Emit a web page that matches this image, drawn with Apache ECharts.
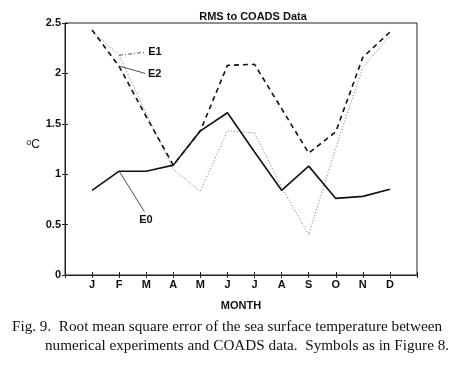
<!DOCTYPE html>
<html>
<head>
<meta charset="utf-8">
<script src="https://cdn.jsdelivr.net/npm/echarts@6/dist/echarts.min.js"></script>
<style>
  html, body { margin: 0; padding: 0; background: #fff; }
  #chart { width: 454px; height: 369px; }
</style>
</head>
<body>
<div id="chart"></div>
<script>
// month tick labels
const months = ['J', 'F', 'M', 'A', 'M', 'J', 'J', 'A', 'S', 'O', 'N', 'D'];
// RMS (oC) per month
const e0 = [0.84, 1.03, 1.03, 1.09, 1.43, 1.61, 1.22, 0.84, 1.08, 0.76, 0.78, 0.85];
const e1 = [2.42, 2.18, 1.60, 1.05, 0.83, 1.43, 1.41, 0.87, 0.40, 1.26, 2.06, 2.37];
const e2 = [2.43, 2.07, 1.57, 1.09, 1.43, 2.08, 2.09, 1.65, 1.21, 1.42, 2.16, 2.41];
const yTicks = [0, 0.5, 1, 1.5, 2, 2.5];

const font = 'Liberation Sans, Arial, sans-serif';
const serif = 'Liberation Serif, serif';
const toPts = arr => arr.map((v, i) => [i + 1, v]);

// leader line for the series labels (E0/E1/E2)
function pointer(from, to, text, type) {
  return {
    silent: true,
    symbol: 'none',
    lineStyle: { color: '#222', width: 0.8, type: type },
    label: {
      show: true, position: 'end', formatter: text,
      color: '#111', fontFamily: font, fontSize: 11, fontWeight: 'bold', distance: 3
    },
    data: [[{ coord: from }, { coord: to }]]
  };
}

const chart = echarts.init(document.getElementById('chart'));

chart.setOption({
  animation: false,
  backgroundColor: '#fff',
  title: [
    {
      text: 'RMS to COADS Data',
      left: 248, top: 6, textAlign: 'center',
      textStyle: { fontFamily: font, fontSize: 11, fontWeight: 'bold', color: '#111' }
    },
    {
      text: 'Fig. 9.  Root mean square error of the sea surface temperature between',
      left: 7, top: 315,
      textStyle: { fontFamily: serif, fontSize: 15.2, fontWeight: 'normal', color: '#111' }
    },
    {
      text: 'numerical experiments and COADS data.  Symbols as in Figure 8.',
      left: 40, top: 334,
      textStyle: { fontFamily: serif, fontSize: 15.2, fontWeight: 'normal', color: '#111' }
    }
  ],
  grid: {
    left: 65, top: 23, width: 352, height: 252,
    show: true, borderColor: '#222', borderWidth: 1
  },
  xAxis: [
    {
      type: 'value', min: 0, max: 13, interval: 1,
      name: 'MONTH', nameLocation: 'middle', nameGap: 25,
      nameTextStyle: { fontFamily: font, fontSize: 11, fontWeight: 'bold', color: '#111' },
      axisLine: { lineStyle: { color: '#222' } },
      axisTick: { inside: true, length: 3, lineStyle: { color: '#222' } },
      axisLabel: {
        fontFamily: font, fontSize: 11, fontWeight: 'bold', color: '#111', margin: 4,
        formatter: v => months[v - 1] || ''
      },
      splitLine: { show: false }
    },
    {
      type: 'value', position: 'top', min: 0, max: 13, interval: 1,
      axisLine: { show: false },
      axisTick: { inside: true, length: 3, lineStyle: { color: '#222' } },
      axisLabel: { show: false },
      splitLine: { show: false }
    }
  ],
  yAxis: [
    {
      type: 'value', min: yTicks[0], max: yTicks[yTicks.length - 1], interval: 0.5,
      name: '{s|o}C', nameLocation: 'middle', nameRotate: 0, nameGap: 22,
      nameTextStyle: {
        fontFamily: font, fontSize: 12, color: '#111', padding: [0, 0, 8, 0],
        rich: { s: { fontFamily: font, fontSize: 9, color: '#111', verticalAlign: 'top', padding: [0, 0, 4, 0] } }
      },
      axisLine: { show: true, lineStyle: { color: '#222' } },
      axisTick: { show: true, inside: true, length: 3, lineStyle: { color: '#222' } },
      axisLabel: {
        fontFamily: font, fontSize: 11, fontWeight: 'bold', color: '#111', margin: 4,
        formatter: v => String(v)
      },
      splitLine: { show: false }
    },
    {
      type: 'value', position: 'right', min: 0, max: 2.5, interval: 0.5,
      axisLine: { show: false },
      axisTick: { show: true, inside: true, length: 3, lineStyle: { color: '#222' } },
      axisLabel: { show: false },
      splitLine: { show: false }
    }
  ],
  series: [
    {
      name: 'E1', type: 'line', data: toPts(e1), symbol: 'none',
      lineStyle: { color: '#777', width: 1, type: [1, 2] },
      markLine: pointer([2, 2.18], [2.96, 2.21], 'E1', [4, 2, 1, 2])
    },
    {
      name: 'E2', type: 'line', data: toPts(e2), symbol: 'none',
      lineStyle: { color: '#111', width: 1.6, type: [5, 4] },
      markLine: pointer([2.04, 2.07], [2.96, 2.0], 'E2', 'solid')
    },
    {
      name: 'E0', type: 'line', data: toPts(e0), symbol: 'none',
      lineStyle: { color: '#111', width: 1.6 },
      markLine: pointer([2, 1.03], [2.93, 0.63], 'E0', 'solid')
    }
  ]
});
</script>
</body>
</html>
